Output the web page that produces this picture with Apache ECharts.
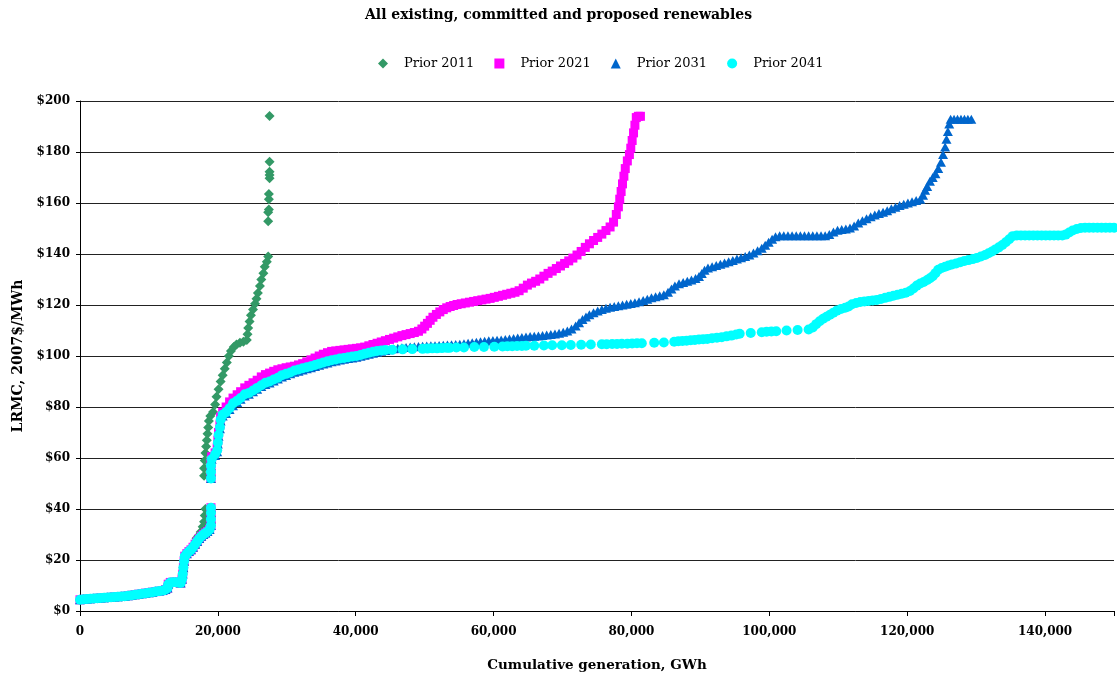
<!DOCTYPE html>
<html>
<head>
<meta charset="utf-8">
<script src="https://cdn.jsdelivr.net/npm/echarts@6/dist/echarts.min.js"></script>
<style>
  html, body { margin: 0; padding: 0; background: #fff; }
  #chart { width: 1117px; height: 677px; }
</style>
</head>
<body>
<div id="chart"></div>
<script>
// Supply curves: cumulative generation (GWh) vs long-run marginal cost (2007$/MWh)

const chartTitle = 'All existing, committed and proposed renewables';
const seriesNames = ['Prior 2011', 'Prior 2021', 'Prior 2031', 'Prior 2041'];
const xTickValues = [0, 20000, 40000, 60000, 80000, 100000, 120000, 140000];
const yTickValues = [0, 20, 40, 60, 80, 100, 120, 140, 160, 180, 200];

// Existing plant, common to every prior year
const baseLow = [
  [0,4.4],[500,4.6],[1000,4.7],[1500,4.8],[2000,4.9],[2500,5],[3000,5.1],[3500,5.2],[4000,5.3],
  [4500,5.4],[5000,5.5],[5500,5.6],[6000,5.7],[6500,5.8],[7000,6],[7500,6.2],[8000,6.4],[8500,6.6],
  [9000,6.8],[9500,7],[10000,7.2],[10500,7.4],[11000,7.6],[11500,7.8],[12000,8],[12400,8.4],
  [12700,9],[12800,10.5],[13100,11.2],[13500,11.3],[13900,11.3],[14300,11.2],[14600,11],[14800,12.5],
  [14900,14.5],[15000,17],[15100,19.5],[15200,21.5],[15500,22.5],[15800,23.3],[16100,24],[16400,25],
  [16700,26.2],[17000,27.3],[17300,28.4],[17600,29.3],[17900,30],[18200,30.6],[18500,31.2],
  [18800,32],[19000,33.5],[19000,36],[19000,38.5],[19000,40.5]
];

const prior2011 = [
  [16900,28.5],[17200,29.5],[17500,31],[17800,33],[18000,35],[18100,37.5],[18200,40],
  [18000,53],[18000,56],[18100,59],[18200,62],[18300,64.5],[18400,67],[18500,69.5],[18600,72],
  [18700,74.5],[18900,76.5],[19300,78],[19600,81],[19800,84],[20100,87],[20400,90],[20700,92.5],
  [21000,95],[21300,97.5],[21600,100],[21900,102],[22300,103.5],[22700,104.5],[23200,105.2],
  [23700,105.6],[24200,106.3],[24300,108.5],[24400,111],[24600,113.5],[24800,116],[25100,118.2],
  [25400,120.5],[25600,122.5],[25800,124.7],[26100,127.5],[26300,130],[26600,132.5],[26800,135],
  [27100,137],[27300,139],[27300,152.8],[27300,156.4],[27400,157.5],[27400,161.5],[27400,163.5],
  [27500,169.7],[27500,171],[27500,172.3],[27500,176.2],[27500,194.1]
];

const prior2021 = [
  [19000,52],[19000,55],[19000,58],[19100,60.5],[19600,62],[19900,64],[20000,67],[20100,70],
  [20300,73],[20400,76],[20700,78],[21200,80],[21700,82],[22200,83.5],[22800,84.8],[23300,86],
  [23900,87.5],[24500,88.5],[25100,89.5],[25700,90.5],[26300,91.8],[26900,92.7],[27500,93.3],
  [28100,94],[28700,94.6],[29300,95],[29900,95.4],[30500,95.7],[31100,96],[31700,96.5],[32300,97],
  [32900,97.7],[33500,98.5],[34100,99.2],[34700,100],[35300,100.7],[35900,101.3],[36500,101.8],
  [37100,102],[37700,102.2],[38300,102.4],[38900,102.6],[39500,102.8],[40100,103],[40700,103.2],
  [41300,103.5],[41900,104],[42500,104.5],[43100,105],[43700,105.5],[44300,106],[44900,106.5],
  [45500,107],[46100,107.5],[46700,108],[47300,108.4],[47900,108.8],[48500,109.2],[49100,109.7],
  [49600,110.6],[50000,111.7],[50400,112.8],[50800,114],[51200,115.2],[51700,116.3],[52200,117.3],
  [52700,118.2],[53200,118.9],[53700,119.4],[54200,119.8],[54700,120.2],[55300,120.5],[55900,120.8],
  [56500,121.1],[57100,121.4],[57700,121.7],[58300,122],[58900,122.3],[59500,122.6],[60100,123],
  [60700,123.4],[61300,123.8],[61900,124.2],[62500,124.6],[63100,125],[63700,125.6],[64300,126.6],
  [64900,127.8],[65500,128.6],[66100,129.3],[66700,130.2],[67300,131.3],[67900,132.4],[68500,133.3],
  [69100,134.3],[69700,135.3],[70300,136.3],[70900,137.3],[71500,138.4],[72100,139.6],[72700,141],
  [73300,142.6],[73900,144],[74500,145.3],[75100,146.5],[75700,147.8],[76300,149.2],[76900,150.6],
  [77400,152.5],[77800,155.5],[78100,158.5],[78300,161.5],[78500,164.5],[78700,167.5],[78900,170.5],
  [79100,173.5],[79400,176.5],[79700,179],[79900,181.5],[80100,184.5],[80300,187.5],[80500,190.5],
  [80700,193.5],[81000,194],[81300,194]
];

const prior2031 = [
  [19000,52],[19000,54.5],[19000,57],[19100,59.5],[19600,61],[19900,62.5],[20000,65.5],[20100,68.5],
  [20300,71.5],[20400,74.5],[20700,76.5],[21200,77.5],[21700,79],[22200,80.5],[22800,81.8],[23300,83],
  [23900,84.3],[24500,85],[25100,86],[25700,87],[26300,88],[26900,88.8],[27500,89.4],[28100,90.2],
  [28700,91],[29300,91.8],[29900,92.4],[30500,93],[31100,93.6],[31700,94],[32300,94.5],[32900,95],
  [33500,95.4],[34100,95.9],[34700,96.4],[35300,96.9],[35900,97.3],[36500,97.7],[37100,98],
  [37700,98.4],[38300,98.7],[38900,99],[39500,99.2],[40100,99.5],[40700,99.9],[41300,100.3],
  [41900,100.7],[42500,101.1],[43100,101.5],[43700,101.9],[44300,102.2],[44900,102.5],[45500,102.8],
  [46100,103],[46700,103.2],[47300,103.3],[47900,103.5],[48500,103.6],[49100,103.7],[49700,103.8],
  [50300,103.9],[50900,104],[51500,104],[52100,104.1],[52700,104.2],[53300,104.3],[53900,104.4],
  [54500,104.5],[55100,104.6],[55700,104.8],[56300,105],[56900,105.2],[57500,105.4],[58100,105.6],
  [58700,105.8],[59300,106],[59900,106.1],[60500,106.2],[61100,106.3],[61700,106.5],[62300,106.7],
  [62900,106.9],[63500,107.1],[64100,107.3],[64700,107.5],[65300,107.6],[65900,107.7],[66500,107.8],
  [67100,108],[67700,108.2],[68300,108.4],[68900,108.6],[69500,108.9],[70100,109.3],[70700,109.8],
  [71300,110.6],[71900,111.8],[72400,113],[72900,114.3],[73400,115.3],[73900,116.2],[74500,117],
  [75100,117.6],[75700,118.2],[76300,118.7],[76900,119.1],[77500,119.4],[78100,119.7],[78700,120],
  [79300,120.3],[79900,120.6],[80500,120.9],[81100,121.3],[81700,121.8],[82300,122.3],[82900,122.8],
  [83500,123.2],[84100,123.6],[84700,124],[85300,125],[85800,126.3],[86300,127.5],[86900,128.3],
  [87500,128.8],[88100,129.3],[88700,129.8],[89300,130.4],[89800,131.2],[90200,132.4],[90600,133.6],
  [91100,134.5],[91700,135],[92300,135.5],[92900,136],[93500,136.5],[94100,137],[94700,137.5],
  [95300,138],[95900,138.5],[96500,139],[97100,139.6],[97700,140.4],[98300,141.3],[98900,142.3],
  [99400,143.4],[99900,144.6],[100400,145.8],[100900,146.8],[101500,147.2],[102100,147.2],
  [102700,147.2],[103300,147.2],[103900,147.2],[104500,147.2],[105100,147.2],[105700,147.2],
  [106300,147.2],[106900,147.2],[107500,147.2],[108100,147.2],[108700,147.6],[109300,148.6],
  [109900,149.3],[110500,149.6],[111100,149.8],[111700,150.2],[112300,151],[112900,152.2],
  [113500,153],[114100,153.8],[114700,154.6],[115300,155.3],[115900,155.9],[116500,156.4],
  [117100,157],[117700,157.7],[118300,158.3],[118900,159],[119500,159.5],[120100,160],[120700,160.5],
  [121300,161],[121900,161.5],[122300,163],[122600,165],[122900,166.5],[123300,168.5],[123700,170],
  [124100,171.5],[124500,173.5],[124900,176],[125200,179],[125500,182],[125700,185],[125900,188],
  [126100,191],[126300,192.8],[126800,192.8],[127300,192.8],[127800,192.8],[128300,192.8],
  [128800,192.8],[129300,192.8]
];

const prior2041 = [
  [19000,52],[19000,54.5],[19000,57],[19100,59.5],[19600,61.5],[19900,63],[20000,66],[20100,69],
  [20300,72],[20400,75],[20700,77],[21200,78],[21700,79.5],[22200,81.5],[22800,82.5],[23300,83.5],
  [23900,85],[24500,85.5],[25100,86.5],[25700,87.5],[26300,88.5],[26900,89.5],[27500,90],[28100,90.8],
  [28700,91.5],[29300,92.5],[29900,93],[30500,93.5],[31100,94.3],[31700,94.7],[32300,95.2],
  [32900,95.6],[33500,96],[34100,96.5],[34700,97],[35300,97.5],[35900,97.9],[36500,98.3],[37100,98.6],
  [37700,99],[38300,99.2],[38900,99.5],[39500,99.8],[40100,100],[40700,100.4],[41300,100.9],
  [41900,101.3],[42500,101.7],[43100,102],[43700,102.2],[44300,102.4],[45300,102.5],[46800,102.6],
  [48200,102.7],[49700,102.8],[50400,102.9],[51100,103],[51800,103],[52500,103.1],[53200,103.2],
  [53600,103.2],[54600,103.3],[55700,103.3],[57200,103.5],[58600,103.5],[60100,103.6],[61300,103.7],
  [62000,103.8],[62700,103.8],[63400,103.9],[64100,103.9],[64700,104],[65900,104],[67300,104.1],
  [68500,104.2],[69900,104.2],[71200,104.3],[72700,104.4],[74100,104.5],[75700,104.6],[76400,104.6],
  [77200,104.7],[77900,104.7],[78600,104.8],[79400,104.8],[80100,104.9],[80800,105],[81500,105],
  [83300,105.2],[84700,105.3],[86200,105.6],[86800,105.8],[87400,105.9],[88000,106],[88600,106.2],
  [89200,106.3],[89800,106.5],[90400,106.6],[91000,106.7],[91700,107],[92400,107.2],[93100,107.4],
  [93800,107.7],[94500,108],[95200,108.4],[95700,108.7],[97300,109],[98900,109.3],[99600,109.5],
  [100300,109.6],[101000,109.7],[102500,110],[104100,110.2],[105700,110.4],[106300,111.2],
  [106800,112.5],[107300,113.6],[107800,114.6],[108300,115.4],[108800,116.2],[109300,117],
  [109800,117.8],[110400,118.4],[111000,118.9],[111500,119.4],[112000,120.3],[112600,120.8],
  [113200,121.2],[113800,121.4],[114400,121.6],[115000,121.8],[115600,122],[116200,122.4],
  [116800,122.8],[117400,123.2],[118000,123.6],[118600,124],[119200,124.4],[119800,124.8],
  [120400,125.5],[120900,126.5],[121400,127.6],[121900,128.4],[122400,129],[122900,129.8],
  [123300,130.5],[123700,131.3],[124100,132.5],[124500,133.8],[125000,134.5],[125500,135],
  [126000,135.5],[126500,135.9],[127100,136.3],[127700,136.8],[128300,137.3],[128900,137.6],
  [129500,138],[130100,138.4],[130700,139],[131300,139.6],[131800,140.3],[132300,141],[132800,141.8],
  [133300,142.6],[133800,143.5],[134300,144.6],[134800,145.8],[135300,147],[135900,147.3],
  [136500,147.3],[137100,147.3],[137700,147.3],[138300,147.3],[138900,147.3],[139500,147.3],
  [140100,147.3],[140700,147.3],[141300,147.3],[141900,147.3],[142500,147.3],[143000,147.6],
  [143500,148.4],[144000,149.2],[144600,149.8],[145200,150.2],[145800,150.3],[146400,150.3],
  [147000,150.3],[147600,150.3],[148200,150.3],[148800,150.3],[149400,150.3],[150000,150.3]
];

const seriesColors = ['#339966', '#FF00FF', '#0066CC', '#00FFFF'];
const seriesSymbols = ['diamond', 'rect', 'triangle', 'circle'];
const seriesSizes = [[10, 10], 9, [10, 9], 10];
const seriesData = [
  baseLow.concat(prior2011),
  baseLow.concat(prior2021),
  baseLow.concat(prior2031),
  baseLow.concat(prior2041)
];

const serif = 'DejaVu Serif';
const chart = echarts.init(document.getElementById('chart'), null, { renderer: 'canvas' });

chart.setOption({
  animation: false,
  backgroundColor: '#ffffff',
  title: {
    text: chartTitle,
    left: 'center',
    top: 3,
    textStyle: { fontFamily: serif, fontWeight: 'bold', fontSize: 14, color: '#000' }
  },
  legend: {
    top: 52,
    left: 373,
    itemWidth: 10,
    itemHeight: 10,
    itemGap: 20,
    textStyle: { fontFamily: serif, fontSize: 13, color: '#000', padding: [0, 0, 0, 11] },
    data: seriesNames
  },
  grid: { left: 80, right: 1, top: 101, bottom: 65, containLabel: false },
  xAxis: {
    type: 'value',
    min: 0,
    max: 150000,
    interval: 20000,
    name: 'Cumulative generation, GWh',
    nameLocation: 'middle',
    nameGap: 47,
    nameTextStyle: { fontFamily: serif, fontWeight: 'bold', fontSize: 13.5, color: '#000' },
    axisLine: { lineStyle: { color: '#000', width: 1 } },
    axisTick: { show: true, length: 5, lineStyle: { color: '#000' } },
    axisLabel: {
      margin: 15,
      fontFamily: serif, fontWeight: 'bold', fontSize: 12, color: '#000',
      formatter: v => xTickValues.includes(v) ? v.toLocaleString('en-US') : ''
    },
    splitLine: { show: false }
  },
  yAxis: {
    type: 'value',
    min: 0,
    max: 200,
    interval: 20,
    name: 'LRMC, 2007$/MWh',
    nameLocation: 'middle',
    nameGap: 55,
    nameTextStyle: { fontFamily: serif, fontWeight: 'bold', fontSize: 14, color: '#000' },
    axisLine: { show: true, lineStyle: { color: '#000', width: 1 } },
    axisTick: { show: true, length: 4, lineStyle: { color: '#000' } },
    axisLabel: {
      margin: 10,
      fontFamily: serif, fontWeight: 'bold', fontSize: 12, color: '#000',
      formatter: v => yTickValues.includes(v) ? '$' + v : ''
    },
    splitLine: { show: true, lineStyle: { color: '#222', width: 1 } }
  },
  series: seriesNames.map((name, i) => ({
    name: name,
    type: 'scatter',
    data: seriesData[i],
    symbol: seriesSymbols[i],
    symbolSize: seriesSizes[i],
    itemStyle: { color: seriesColors[i], opacity: 1 },
    emphasis: { disabled: true },
    clip: true
  }))
});
</script>
</body>
</html>
